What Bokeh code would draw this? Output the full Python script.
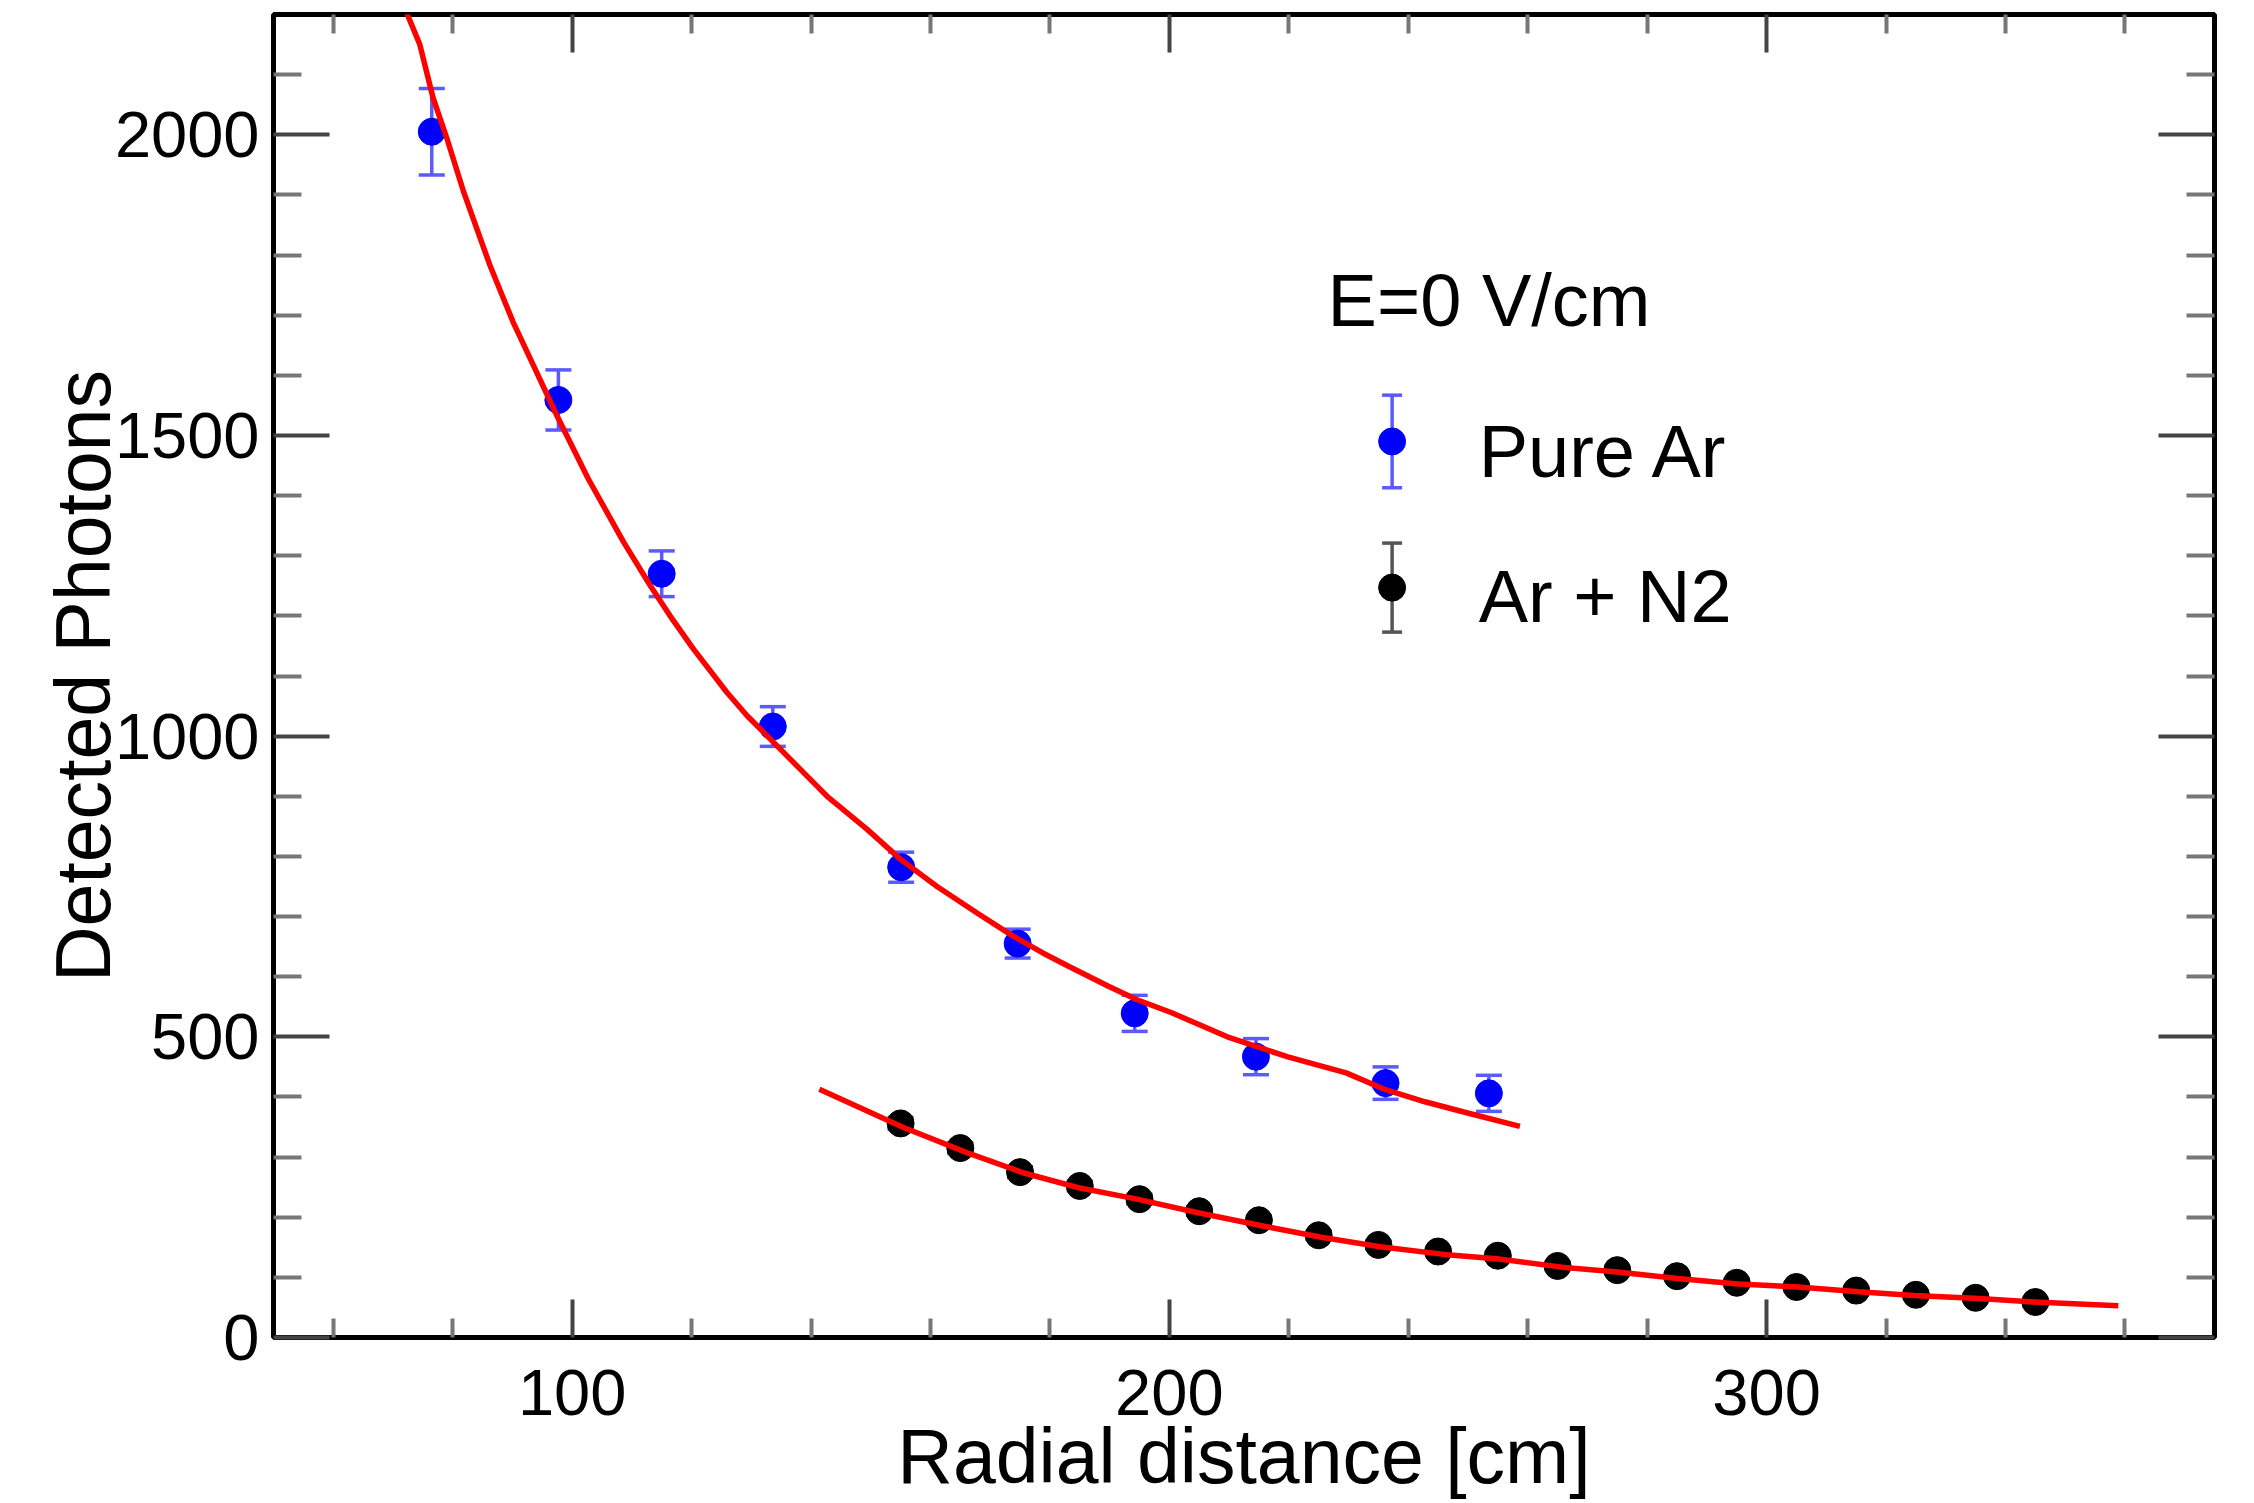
from bokeh.plotting import figure
from bokeh.models import ColumnDataSource, Whisker, TeeHead, FixedTicker, LinearAxis, Label, Range1d
from bokeh.embed import file_html
from bokeh.resources import INLINE

# ---------------- data ----------------
x_major_ticks = [100, 200, 300]
x_minor_ticks = [60, 80, 120, 140, 160, 180, 220, 240, 260, 280, 320, 340, 360]
y_major_ticks = [0, 500, 1000, 1500, 2000]
y_minor_ticks = [100, 200, 300, 400, 600, 700, 800, 900, 1100, 1200, 1300, 1400,
                 1600, 1700, 1800, 1900, 2100]

pure_ar_x = [76.5, 97.7, 115.0, 133.6, 155.1, 174.6, 194.2, 214.5, 236.2, 253.5]
pure_ar_y = [2005, 1559, 1270, 1016, 782, 655, 539, 467, 423, 406]
pure_ar_err = [72, 50, 38, 33, 25, 24, 30, 30, 27, 30]

ar_n2_x = [155, 165, 175, 185, 195, 205, 215, 225, 235, 245,
           255, 265, 275, 285, 295, 305, 315, 325, 335, 345]
ar_n2_y = [356, 315, 275, 252, 230, 210, 195, 170, 154, 143,
           136, 119, 112, 102, 91, 84, 78, 71, 66, 59]
ar_n2_err = [10, 9, 9, 8, 8, 7, 7, 7, 6, 6, 6, 5, 5, 5, 5, 4, 4, 4, 4, 4]

pure_ar_fit_x = [71.8, 74.5, 76.7, 79.0, 81.8, 86.2, 90.1, 93.5, 97.4, 102.7, 108.6,
                 113.1, 116.4, 120.3, 125.9, 129.3, 133.7, 139.3, 142.7, 149.4, 155.0,
                 161.1, 167.8, 173.9, 178.9, 183.2, 189.8, 194.5, 200.4, 209.7, 219.7,
                 229.6, 236.2, 242.8, 249.3, 258.7]
pure_ar_fit_y = [2215, 2150, 2062, 1995, 1906, 1784, 1689, 1617, 1534, 1428, 1323,
                 1250, 1200, 1145, 1073, 1034, 990, 934, 900, 845, 795,
                 750, 706, 667, 639, 617, 584, 562, 540, 500, 467,
                 440, 412, 392, 375, 351]

ar_n2_fit_x = [141.4, 155.3, 166.2, 175.5, 184.8, 194.2, 205.0, 215.9, 225.2, 235.3, 247.0,
               254.8, 265.7, 275.0, 285.1, 295.2, 305.3, 315.4, 324.7, 335.6, 344.9, 358.9]
ar_n2_fit_y = [413, 350, 307, 274, 249, 231, 207, 185, 167, 151, 137,
               131, 117, 109, 98, 89, 84, 76, 70, 65, 59, 53]

legend_header = "E=0 V/cm"
legend_labels = ["Pure Ar", "Ar + N2"]
x_title = "Radial distance [cm]"
y_title = "Detected Photons"

# ---------------- style ----------------
FONT = "Liberation Sans"
BLUE = "#0000ff"
BLUE_ERR = "#5a5aff"
BLACK = "#000000"
BLACK_ERR = "#555555"
RED = "#ff0000"

p = figure(width=2254, height=1503,
           x_range=Range1d(50, 375), y_range=Range1d(0, 2200),
           output_backend="svg", toolbar_location=None,
           min_border_left=273, min_border_right=40,
           min_border_top=14, min_border_bottom=166,
           x_axis_label=x_title, y_axis_label=y_title)
p.xgrid.visible = False
p.ygrid.visible = False
p.outline_line_color = "black"
p.outline_line_width = 5
p.background_fill_color = "white"
p.border_fill_color = "white"


def style_axis(ax, major, minor, tin, show_labels):
    ax.ticker = FixedTicker(ticks=major, minor_ticks=minor)
    ax.axis_line_color = None
    ax.major_tick_in = tin
    ax.major_tick_out = 0
    ax.minor_tick_in = tin // 2
    ax.minor_tick_out = 0
    ax.major_tick_line_color = "#444444"
    ax.major_tick_line_width = 4
    ax.minor_tick_line_color = "#777777"
    ax.minor_tick_line_width = 4
    ax.major_label_text_font = FONT
    ax.major_label_text_color = "black"
    if show_labels:
        ax.major_label_text_font_size = "65px"
    else:
        ax.major_label_text_font_size = "10px"
        ax.major_label_standoff = 0
        ax.major_label_overrides = {t: "" for t in major}


xb = p.xaxis[0]
yl = p.yaxis[0]
style_axis(xb, x_major_ticks, x_minor_ticks, 38, True)
style_axis(yl, y_major_ticks, y_minor_ticks, 56, True)
xb.major_label_standoff = 32
yl.major_label_standoff = 14
for ax in (xb, yl):
    ax.axis_label_text_font = FONT
    ax.axis_label_text_font_size = "77px"
    ax.axis_label_text_font_style = "normal"
    ax.axis_label_text_color = "black"
yl.axis_label_standoff = -14
xb.axis_label_standoff = -5

xt = LinearAxis()
style_axis(xt, x_major_ticks, x_minor_ticks, 38, False)
p.add_layout(xt, "above")
yr = LinearAxis()
style_axis(yr, y_major_ticks, y_minor_ticks, 56, False)
p.add_layout(yr, "right")

# ---------------- data glyphs ----------------
src_ar = ColumnDataSource(dict(
    x=pure_ar_x, y=pure_ar_y,
    upper=[v + e for v, e in zip(pure_ar_y, pure_ar_err)],
    lower=[v - e for v, e in zip(pure_ar_y, pure_ar_err)]))
src_n2 = ColumnDataSource(dict(
    x=ar_n2_x, y=ar_n2_y,
    upper=[v + e for v, e in zip(ar_n2_y, ar_n2_err)],
    lower=[v - e for v, e in zip(ar_n2_y, ar_n2_err)]))


def add_whisker(src, color, cap):
    w = Whisker(source=src, base="x", upper="upper", lower="lower",
                line_color=color, line_width=3.5,
                upper_head=TeeHead(size=cap, line_color=color, line_width=3.5),
                lower_head=TeeHead(size=cap, line_color=color, line_width=3.5))
    p.add_layout(w)


add_whisker(src_ar, BLUE_ERR, 26)
add_whisker(src_n2, BLACK_ERR, 26)

p.scatter("x", "y", source=src_ar, marker="circle", size=27,
          fill_color=BLUE, line_color=BLUE)
p.scatter("x", "y", source=src_n2, marker="circle", size=27,
          fill_color=BLACK, line_color=BLACK)

p.line(pure_ar_fit_x, pure_ar_fit_y, line_color=RED, line_width=5.5)
p.line(ar_n2_fit_x, ar_n2_fit_y, line_color=RED, line_width=5.5)

# ---------------- legend (manual) ----------------
LEG_MARK_X = 237.3
LEG_TEXT_X = 251.8
leg_mark_y = [1490, 1247]
leg_err = [77, 74]
leg_text_y = [1473, 1233]

p.add_layout(Label(x=226.5, y=1725, text=legend_header, text_font=FONT,
                   text_font_size="74px", text_color="black",
                   text_baseline="middle", text_align="left"))

for i, (mcol, ecol) in enumerate([(BLUE, BLUE_ERR), (BLACK, BLACK_ERR)]):
    s = ColumnDataSource(dict(x=[LEG_MARK_X], y=[leg_mark_y[i]],
                              upper=[leg_mark_y[i] + leg_err[i]],
                              lower=[leg_mark_y[i] - leg_err[i]]))
    add_whisker(s, ecol, 20)
    p.scatter("x", "y", source=s, marker="circle", size=27,
              fill_color=mcol, line_color=mcol)
    p.add_layout(Label(x=LEG_TEXT_X, y=leg_text_y[i], text=legend_labels[i],
                       text_font=FONT, text_font_size="74px", text_color="black",
                       text_baseline="middle", text_align="left"))

open("out.html", "w").write(file_html(p, INLINE))
